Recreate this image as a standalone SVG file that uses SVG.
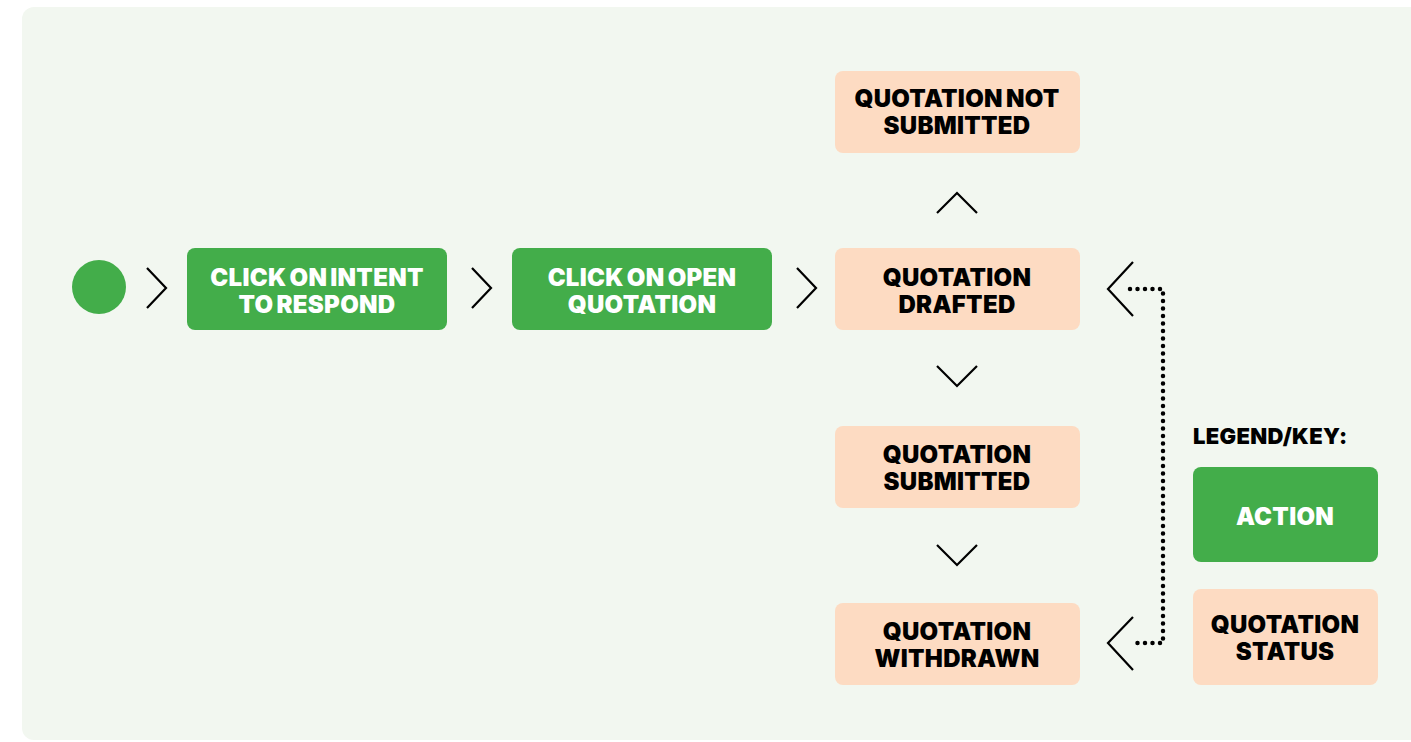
<svg xmlns="http://www.w3.org/2000/svg" width="1411" height="742" viewBox="0 0 1411 742">
<defs>
<style>
.bg{fill:#f2f7f0}
.act{fill:#43ad4a}
.st{fill:#fddbc2}
.t{font-family:Inter,Lato,"Liberation Sans",sans-serif;font-weight:900;font-size:24px;text-anchor:middle;letter-spacing:0.3px;word-spacing:-2px}
.tw{fill:#ffffff}
.tb{fill:#000000}
.chev{fill:none;stroke:#000;stroke-width:2.2;stroke-linejoin:miter}
.dot{fill:none;stroke:#000;stroke-width:4.5;stroke-linecap:round;stroke-dasharray:0 7.5}
</style>
</defs>
<rect class="bg" x="22" y="7" width="1420" height="733" rx="12"/>
<g id="start"><circle class="act" cx="99" cy="287" r="27"/></g>
<g id="n-intent"><rect class="act" x="187" y="248" width="260" height="82" rx="8"/><text class="t tw" x="317" y="286">CLICK ON INTENT</text><text class="t tw" x="317" y="313">TO RESPOND</text></g>
<g id="n-open"><rect class="act" x="512" y="248" width="260" height="82" rx="8"/><text class="t tw" x="642" y="286">CLICK ON OPEN</text><text class="t tw" x="642" y="313">QUOTATION</text></g>
<g id="n-notsub"><rect class="st" x="835" y="71" width="245" height="82" rx="8"/><text class="t tb" x="957" y="107">QUOTATION NOT</text><text class="t tb" x="957" y="134">SUBMITTED</text></g>
<g id="n-drafted"><rect class="st" x="835" y="248" width="245" height="82" rx="8"/><text class="t tb" x="957" y="286">QUOTATION</text><text class="t tb" x="957" y="313">DRAFTED</text></g>
<g id="n-submitted"><rect class="st" x="835" y="426" width="245" height="82" rx="8"/><text class="t tb" x="957" y="463">QUOTATION</text><text class="t tb" x="957" y="490">SUBMITTED</text></g>
<g id="n-withdrawn"><rect class="st" x="835" y="603" width="245" height="82" rx="8"/><text class="t tb" x="957" y="640">QUOTATION</text><text class="t tb" x="957" y="667">WITHDRAWN</text></g>
<g id="legend">
<text class="t tb" x="1193" y="444" style="text-anchor:start;font-size:22px">LEGEND/KEY:</text>
<rect class="act" x="1193" y="467" width="185" height="95" rx="8"/><text class="t tw" x="1285" y="525">ACTION</text>
<rect class="st" x="1193" y="589" width="185" height="96" rx="8"/><text class="t tb" x="1285" y="633">QUOTATION</text><text class="t tb" x="1285" y="660">STATUS</text>
</g>
<g id="connectors">
<polyline class="chev" points="147,268 166,288 147,308"/>
<polyline class="chev" points="472,268 491,288 472,308"/>
<polyline class="chev" points="797,268 816,288 797,308"/>
<polyline class="chev" points="937,213 957,193 977,213"/>
<polyline class="chev" points="937,366 957,386 977,366"/>
<polyline class="chev" points="937,545 957,565 977,545"/>
<polyline class="chev" points="1133,262 1108,289 1133,316"/>
<polyline class="chev" points="1133,617 1108,643 1133,670"/>
<polyline class="dot" points="1130,289 1163,289 1163,643 1130,643"/>
</g>
</svg>
